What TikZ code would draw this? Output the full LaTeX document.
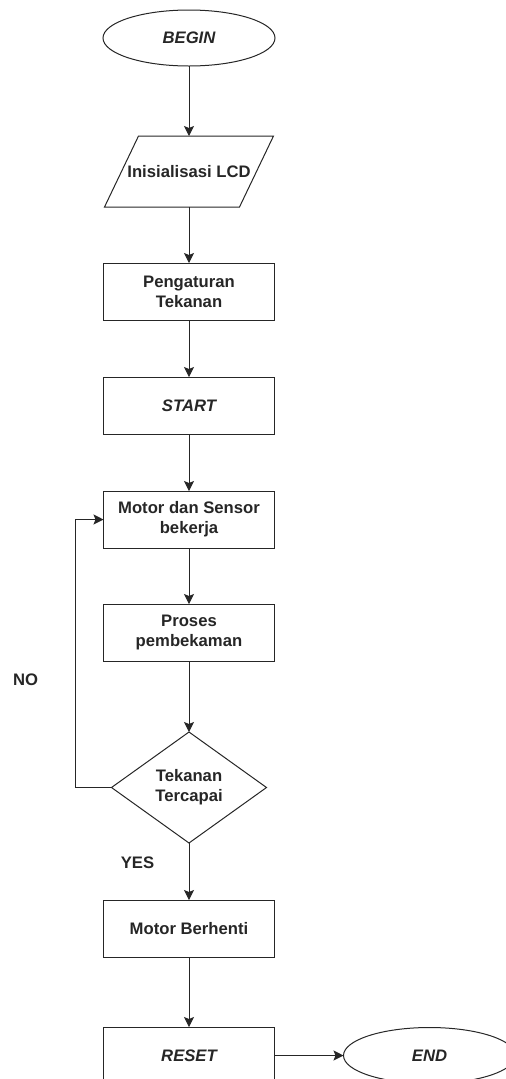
\documentclass[tikz,border=0pt]{standalone}
\usepackage{fontspec}
\setmainfont{Liberation Sans}
\usepackage{xcolor}
\usetikzlibrary{arrows.meta, positioning, shapes.geometric}

\begin{document}
\begin{tikzpicture}[
  x=0.75pt, y=-0.75pt,
  every node/.style={text=black!85, font=\fontsize{12.5}{15}\selectfont\bfseries},
  box/.style={rectangle, draw=black!85, line width=0.75pt, minimum width=128.25pt,
              minimum height=42.75pt, inner sep=0pt, outer sep=0pt, align=center},
  term/.style={ellipse, draw=black!85, line width=0.75pt, minimum width=129pt,
               minimum height=42pt, inner sep=0pt, outer sep=0pt},
  iobox/.style={rectangle, minimum width=126.75pt, minimum height=53.25pt,
                inner sep=0pt, outer sep=0pt},
  decide/.style={diamond, draw=black!85, line width=0.75pt, minimum width=116.25pt,
                 minimum height=83.25pt, inner sep=0pt, outer sep=0pt, align=center},
  arr/.style={-{Stealth[length=7.5pt, width=7.5pt, inset=1.5pt]}, line width=0.75pt,
              draw=black!85},
  edge line/.style={draw=black!85, line width=0.75pt},
]
\useasboundingbox (0,0) rectangle (506,1079);

%% ---- main column ----
\node[term] (begin) at (189,38) {\itshape BEGIN};
\node[iobox, below=52.5pt of begin] (lcd) {Inisialisasi LCD};
\node[box, below=42pt of lcd] (atur) {Pengaturan\\Tekanan};
\node[box, below=42.75pt of atur] (start) {\itshape START};
\node[box, below=42.75pt of start] (motor) {Motor dan Sensor\\bekerja};
\node[box, below=42pt of motor] (bekam) {Proses\\pembekaman};
\node[decide, below=53.25pt of bekam] (cek) {Tekanan\\Tercapai};
\node[box, below=42.75pt of cek] (stop) {Motor Berhenti};
\node[box, below=52.5pt of stop] (reset) {\itshape RESET};
\node[term, right=51.75pt of reset] (end) {\itshape END};

% parallelogram outline of the input box
\draw[edge line] (lcd.south west) -- ++(135,0) -- (lcd.north east) -- ++(-135,0) -- cycle;

\draw[arr] (begin) -- (lcd);
\draw[arr] (lcd) -- (atur);
\draw[arr] (atur) -- (start);
\draw[arr] (start) -- (motor);
\draw[arr] (motor) -- (bekam);
\draw[arr] (bekam) -- (cek);
\draw[arr] (cek) -- (stop);
\draw[arr] (stop) -- (reset);
\draw[arr] (reset) -- (end);

%% loop back
\draw[arr] (cek.west) -- ++(-36,0) |- (motor.west);
\node (no) at (25.5,680) {NO};
\node (yes) at (137.5,863) {YES};

\end{tikzpicture}
\end{document}
